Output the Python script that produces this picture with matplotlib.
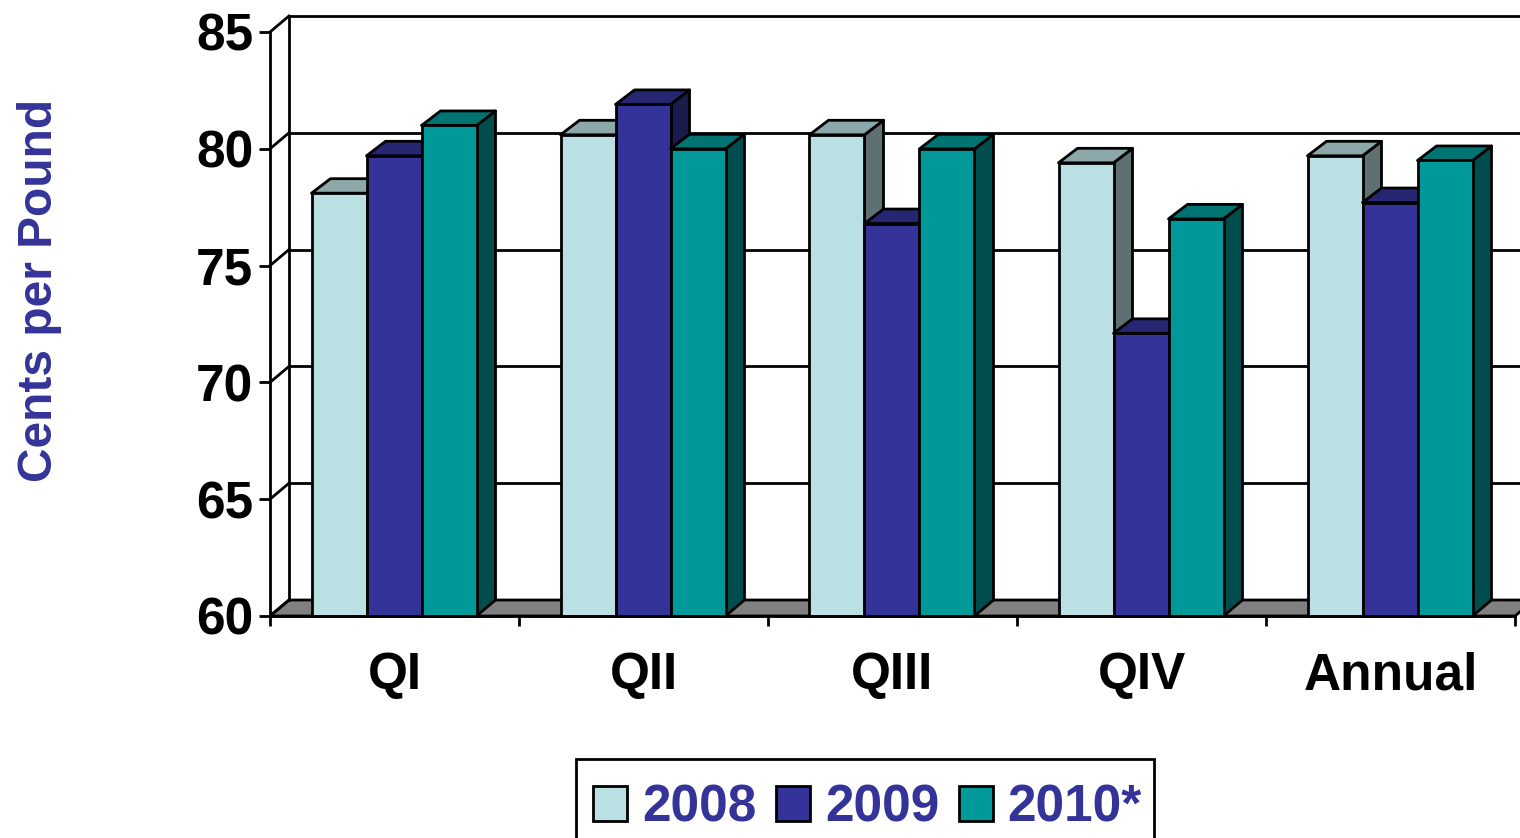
import matplotlib
matplotlib.use('Agg')
import matplotlib.pyplot as plt
from matplotlib.patches import Patch, Rectangle
import numpy as np

plt.rcParams['font.family'] = ['Liberation Sans', 'DejaVu Sans']
plt.rcParams['font.weight'] = 'bold'

quarters = ['QI', 'QII', 'QIII', 'QIV', 'Annual']
years = ['2008', '2009', '2010*']
values_2008 = [78.1, 80.6, 80.6, 79.4, 79.7]
values_2009 = [79.7, 81.9, 76.8, 72.1, 77.7]
values_2010 = [81.0, 80.0, 80.0, 77.0, 79.5]
yticks = [60, 65, 70, 75, 80, 85]

front_colors = ['#BBE0E3', '#333399', '#009999']
top_colors = ['#8CA8AA', '#262673', '#007373']
side_colors = ['#5E7072', '#1A1A4D', '#004D4D']

LW = 2
DX = 19 / 249.0   # depth of the fake 3d, in group widths
DY = 16 / 23.36   # same, in cents
TOP_DY = 14.5 / 23.36
BAR_W = 55 / 249.0
BAR_OFF = 41.5 / 249.0

fig = plt.figure(figsize=(15.2, 8.38), dpi=100)
ax = fig.add_axes([270 / 1520, 1 - 616 / 838, 1245 / 1520, 584 / 838])
ax.set_xlim(0, 5)
ax.set_ylim(60, 85)

# floor and back wall
ax.fill([0, DX, 5 + DX, 5], [60, 60 + DY, 60 + DY, 60], facecolor='#808080',
        edgecolor='black', linewidth=LW, clip_on=False, zorder=1)
for val in yticks:
    ax.plot([0, DX], [val, val + DY], color='black', lw=LW, clip_on=False, zorder=1.5)
    if val > 60:
        ax.plot([DX, 5 + DX], [val + DY, val + DY], color='black', lw=LW, clip_on=False, zorder=1.5)
ax.plot([DX, DX], [60 + DY, 85 + DY], color='black', lw=LW, clip_on=False, zorder=1.5)

# bars, left to right so each front covers the side of the previous one
series = [values_2008, values_2009, values_2010]
z = 2
for g in range(len(quarters)):
    for s, vals in enumerate(series):
        left = g + BAR_OFF + s * BAR_W
        right = left + BAR_W
        v = vals[g]
        ax.fill([right, right + DX, right + DX, right], [60, 60 + DY, v + TOP_DY, v],
                facecolor=side_colors[s], edgecolor='black', linewidth=LW,
                joinstyle='round', clip_on=False, zorder=z)
        ax.fill([left, left + DX, right + DX, right], [v, v + TOP_DY, v + TOP_DY, v],
                facecolor=top_colors[s], edgecolor='black', linewidth=LW,
                joinstyle='round', clip_on=False, zorder=z)
        ax.bar(left, v - 60, width=BAR_W, bottom=60, align='edge', color=front_colors[s],
               edgecolor='black', linewidth=LW, clip_on=False, zorder=z + 0.5)
        z += 1

for name in ['top', 'right']:
    ax.spines[name].set_visible(False)
for name in ['left', 'bottom']:
    ax.spines[name].set_linewidth(LW)
    ax.spines[name].set_zorder(200)

ax.set_yticks(yticks)
ax.tick_params(axis='y', length=8, width=LW, pad=4, labelsize=37)
ax.set_xticks(np.arange(0, 6))
ax.set_xticklabels([])
ax.tick_params(axis='x', length=7, width=LW)
for i, q in enumerate(quarters):
    ax.text(i + 0.5, 57.45, q, ha='center', va='center', fontsize=37, color='black')

fig.text(40 / 1520, 1 - 290 / 838, 'Cents per Pound', rotation=90, ha='center', va='center',
         fontsize=34.5, color='#333399')

# legend box runs off the bottom of the picture
fig.add_artist(Rectangle((576 / 1520, -0.02), 578 / 1520, 1 - 759 / 838 + 0.02,
                         transform=fig.transFigure, facecolor='white',
                         edgecolor='black', linewidth=LW))
handles = [Patch(facecolor=c, edgecolor='black', linewidth=LW) for c in front_colors]
leg = fig.legend(handles, years, ncol=3, loc='upper left',
                 bbox_to_anchor=(576 / 1520, 1 - 766 / 838), borderaxespad=0,
                 fontsize=37, labelcolor='#333399', frameon=False, borderpad=0.34,
                 handlelength=0.66, handleheight=0.66, handletextpad=0.29,
                 columnspacing=0.38)

fig.savefig('out.png', dpi=100)
